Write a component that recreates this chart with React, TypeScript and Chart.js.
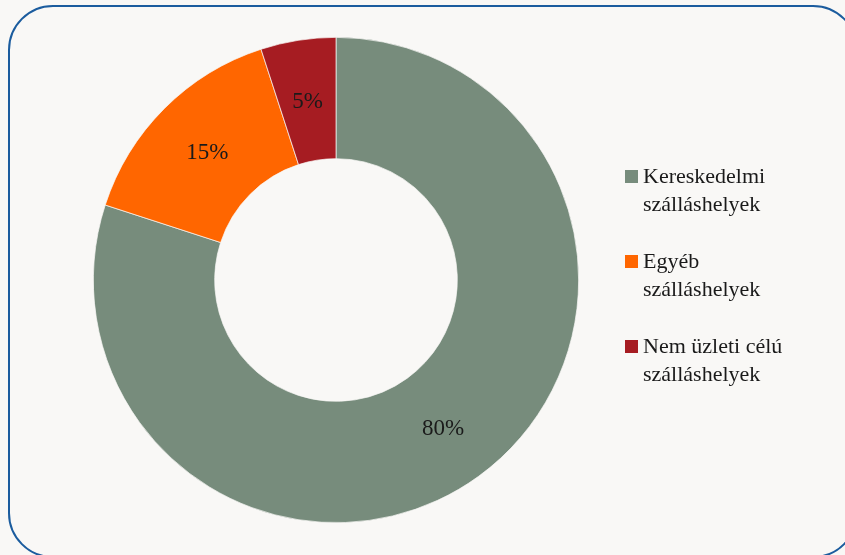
import React, { useEffect, useRef } from "react";
import { Chart, registerables } from "chart.js";

Chart.register(...registerables);

const categories: string[][] = [
  ["Kereskedelmi", "szálláshelyek"],
  ["Egyéb", "szálláshelyek"],
  ["Nem üzleti célú", "szálláshelyek"],
];
const values: number[] = [80, 15, 5];
const colors: string[] = ["#778C7C", "#FF6600", "#A61C22"];

const BG = "#F9F8F6";
const FONT = "'Liberation Serif', 'Times New Roman', serif";

const sliceLabels = {
  id: "sliceLabels",
  afterDatasetsDraw(chart: any) {
    const ctx = chart.ctx;
    const meta = chart.getDatasetMeta(0);
    const data = chart.data.datasets[0].data as number[];
    ctx.save();
    ctx.font = `23px ${FONT}`;
    ctx.fillStyle = "#1a1a1a";
    ctx.textAlign = "center";
    ctx.textBaseline = "middle";
    meta.data.forEach((arc: any, i: number) => {
      const p = arc.tooltipPosition();
      ctx.fillText(`${data[i]}%`, p.x, p.y + 2);
    });
    ctx.restore();
  },
};

const sideLegend = {
  id: "sideLegend",
  afterDraw(chart: any) {
    const ctx = chart.ctx;
    const labels = chart.data.labels as string[][];
    const bg = chart.data.datasets[0].backgroundColor as string[];
    const x0 = 625;
    const y0 = 183;
    const groupGap = 85;
    const lineH = 28;
    ctx.save();
    ctx.font = `22px ${FONT}`;
    ctx.textAlign = "left";
    ctx.textBaseline = "alphabetic";
    labels.forEach((lines, i) => {
      const by = y0 + i * groupGap;
      ctx.fillStyle = bg[i];
      ctx.fillRect(x0, by - 13, 13, 13);
      ctx.fillStyle = "#1a1a1a";
      lines.forEach((t, j) => ctx.fillText(t, x0 + 18, by + j * lineH));
    });
    ctx.restore();
  },
};

export default function App() {
  const ref = useRef<HTMLCanvasElement | null>(null);
  useEffect(() => {
    document.body.style.background = BG;
    document.body.style.margin = "0";
    if (!ref.current) return;
    const chart = new Chart(ref.current, {
      type: "doughnut",
      data: {
        labels: categories,
        datasets: [
          {
            data: values,
            backgroundColor: colors,
            borderColor: BG,
            borderWidth: 0.7,
          },
        ],
      },
      options: {
        responsive: false,
        animation: false,
        cutout: "50%",
        layout: { padding: { left: 93, right: 266, top: 37, bottom: 32 } },
        plugins: {
          legend: { display: false },
          tooltip: { enabled: false },
        },
      },
      plugins: [sliceLabels, sideLegend],
    });
    return () => chart.destroy();
  }, []);
  return (
    <div style={{ position: "fixed", left: 0, top: 0, width: 845, height: 555, background: BG, overflow: "hidden" }}>
      <div
        style={{
          position: "absolute",
          left: 8,
          top: 5,
          width: 850,
          height: 553,
          border: "2px solid #1B5C9E",
          borderRadius: 45,
          boxSizing: "border-box",
        }}
      />
      <canvas ref={ref} width={845} height={555} style={{ position: "absolute", left: 0, top: 0 }} />
    </div>
  );
}
